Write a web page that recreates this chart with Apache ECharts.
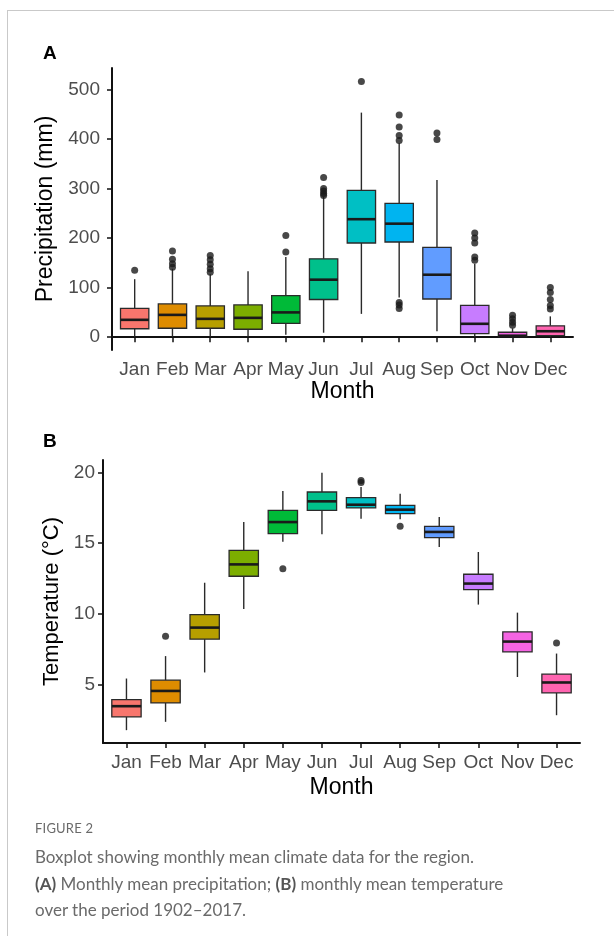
<!DOCTYPE html>
<html>
<head>
<meta charset="utf-8">
<script src="https://cdn.jsdelivr.net/npm/echarts@6/dist/echarts.min.js"></script>
<style>
  html, body { margin: 0; padding: 0; background: #fff; }
  #chart { position: absolute; left: 0; top: 0; width: 614px; height: 810px; z-index: 1; }
  #frame { position: absolute; left: 7px; top: 10px; width: 620px; height: 940px; z-index: 2;
           border-top: 1px solid #c9c9c9; border-left: 1px solid #c9c9c9; pointer-events: none; }
  #caption { position: absolute; left: 35px; top: 820px; width: 560px; z-index: 2;
             font-family: Lato, "Open Sans", sans-serif; color: #6a6a6a; }
  #caption .fig { font-size: 13px; letter-spacing: 0.2px; margin-bottom: 8px; }
  #caption .txt { font-size: 17px; line-height: 26.5px; }
  #caption b { font-weight: bold; color: #555; }
</style>
</head>
<body>
<div id="chart"></div>
<div id="frame"></div>
<div id="caption">
  <div class="fig">FIGURE 2</div>
  <div class="txt">Boxplot showing monthly mean climate data for the region.<br><b>(A)</b> Monthly mean precipitation; <b>(B)</b> monthly mean temperature<br>over the period 1902–2017.</div>
</div>
<script>
// meses e cores (paleta padrão do ggplot)
const months = ["Jan", "Feb", "Mar", "Apr", "May", "Jun", "Jul", "Aug", "Sep", "Oct", "Nov", "Dec"];
const colors = ["#F8766D", "#DE8C00", "#B79F00", "#7CAE00", "#00BA38", "#00C08B",
                "#00BFC4", "#00B4F0", "#619CFF", "#C77CFF", "#F564E3", "#FF64B0"];

// precipitação (mm): [min, Q1, mediana, Q3, max]
const precipStats = [
  [1, 17, 35, 58, 117],
  [1, 18, 45, 67, 138],
  [1, 18, 37, 63, 127],
  [1, 16, 39, 65, 133],
  [5, 28, 50, 84, 162],
  [9, 76, 116, 158, 283],
  [47, 190, 238, 296, 453],
  [80, 192, 229, 270, 391],
  [12, 77, 126, 181, 317],
  [1, 7, 27, 64, 148],
  [0, 1, 3, 10, 18],
  [1, 3, 12, 23, 42]
];
const precipOutliers = [
  [135],
  [141, 148, 157, 174],
  [131, 138, 147, 156, 165],
  [],
  [172, 205],
  [286, 290, 295, 300, 322],
  [516],
  [58, 65, 70, 397, 407, 424, 448],
  [399, 412],
  [155, 162, 190, 200, 210],
  [24, 30, 37, 44],
  [57, 64, 76, 90, 100]
];
const precipTicks = [0, 100, 200, 300, 400, 500];

// temperatura (°C): [min, Q1, mediana, Q3, max]
const tempStats = [
  [1.75, 2.69, 3.45, 3.92, 5.41],
  [2.34, 3.68, 4.53, 5.29, 7.0],
  [5.84, 8.2, 9.02, 9.94, 12.2],
  [10.34, 12.66, 13.5, 14.5, 16.5],
  [15.1, 15.68, 16.5, 17.33, 18.7],
  [15.63, 17.33, 17.97, 18.63, 20.0],
  [16.74, 17.5, 17.73, 18.23, 18.98],
  [16.7, 17.1, 17.38, 17.68, 18.5],
  [14.73, 15.4, 15.8, 16.2, 16.86],
  [10.65, 11.71, 12.14, 12.8, 14.38],
  [5.52, 7.3, 8.03, 8.71, 10.08],
  [2.81, 4.39, 5.13, 5.72, 7.18]
];
const tempOutliers = [
  [], [8.41], [], [], [13.2], [], [19.3, 19.45], [16.2], [], [], [], [7.93]
];
const tempTicks = [5, 10, 15, 20];

const monthPos = months.map((m, i) => i + 1);
const font = "Liberation Sans, Arial, sans-serif";

function boxData(stats) {
  return stats.map((s, i) => [i + 1, s[0], s[1], s[2], s[3], s[4], i]);
}
function outlierData(outs) {
  let arr = [];
  outs.forEach((list, i) => list.forEach(v => arr.push([i + 1, v])));
  return arr;
}

function renderBox(params, api) {
  const x = api.value(0);
  const pMin = api.coord([x, api.value(1)]);
  const pQ1 = api.coord([x, api.value(2)]);
  const pMed = api.coord([x, api.value(3)]);
  const pQ3 = api.coord([x, api.value(4)]);
  const pMax = api.coord([x, api.value(5)]);
  const half = api.size([0.75, 0])[0] / 2;
  const cx = pMed[0];
  const line = { stroke: "#2a2a2a", lineWidth: 1.4 };
  return {
    type: "group",
    children: [
      { type: "line", shape: { x1: cx, y1: pMin[1], x2: cx, y2: pQ1[1] }, style: line },
      { type: "line", shape: { x1: cx, y1: pQ3[1], x2: cx, y2: pMax[1] }, style: line },
      { type: "rect", shape: { x: cx - half, y: pQ3[1], width: half * 2, height: pQ1[1] - pQ3[1] },
        style: { fill: colors[api.value(6)], stroke: "#2a2a2a", lineWidth: 1.3 } },
      { type: "line", shape: { x1: cx - half, y1: pMed[1], x2: cx + half, y2: pMed[1] },
        style: { stroke: "#1a1a1a", lineWidth: 2.6 } }
    ]
  };
}

function xAxisCfg(gridIndex, margin, nameGap) {
  return {
    type: "value", gridIndex: gridIndex, min: 0.4, max: 12.6,
    name: "Month", nameLocation: "middle", nameGap: nameGap,
    nameTextStyle: { fontFamily: font, fontSize: 23, color: "#000" },
    axisLine: { show: true, lineStyle: { color: "#111", width: 2 } },
    axisTick: { show: true, length: 5, customValues: monthPos, lineStyle: { color: "#111", width: 1.5 } },
    axisLabel: { customValues: monthPos, margin: margin, fontFamily: font, fontSize: 19, color: "#4d4d4d",
                 formatter: v => months[Math.round(v) - 1] },
    splitLine: { show: false }
  };
}
function yAxisCfg(gridIndex, min, max, ticks, name, nameSize, margin, nameGap) {
  return {
    type: "value", gridIndex: gridIndex, min: min, max: max,
    name: name, nameLocation: "middle", nameGap: nameGap,
    nameTextStyle: { fontFamily: font, fontSize: nameSize, color: "#000" },
    axisLine: { show: true, lineStyle: { color: "#111", width: 2 } },
    axisTick: { show: true, length: 5, customValues: ticks, lineStyle: { color: "#111", width: 1.5 } },
    axisLabel: { customValues: ticks, margin: margin, fontFamily: font, fontSize: 19, color: "#4d4d4d" },
    splitLine: { show: false }
  };
}

const chart = echarts.init(document.getElementById("chart"));
chart.setOption({
  backgroundColor: "#fff",
  animation: false,
  title: [
    { text: "A", left: 43, top: 44, padding: 0, textStyle: { fontFamily: font, fontSize: 19, fontWeight: "bold", color: "#000" } },
    { text: "B", left: 43, top: 432, padding: 0, textStyle: { fontFamily: font, fontSize: 19, fontWeight: "bold", color: "#000" } }
  ],
  grid: [
    { left: 112, top: 68, width: 461, height: 282 },
    { left: 103, top: 460, width: 477, height: 283 }
  ],
  xAxis: [xAxisCfg(0, 10, 29), xAxisCfg(1, 10, 33)],
  yAxis: [
    yAxisCfg(0, -25.85, 543, precipTicks, "Precipitation (mm)", 23, 12, 42),
    yAxisCfg(1, 0.84, 20.9, tempTicks, "Temperature (°C)", 22, 8, 37)
  ],
  series: [
    { type: "custom", xAxisIndex: 0, yAxisIndex: 0, renderItem: renderBox,
      encode: { x: 0, y: [1, 2, 3, 4, 5] }, data: boxData(precipStats) },
    { type: "scatter", xAxisIndex: 0, yAxisIndex: 0, symbolSize: 7, z: 5,
      itemStyle: { color: "#1a1a1a" }, data: outlierData(precipOutliers) },
    { type: "custom", xAxisIndex: 1, yAxisIndex: 1, renderItem: renderBox,
      encode: { x: 0, y: [1, 2, 3, 4, 5] }, data: boxData(tempStats) },
    { type: "scatter", xAxisIndex: 1, yAxisIndex: 1, symbolSize: 7, z: 5,
      itemStyle: { color: "#1a1a1a" }, data: outlierData(tempOutliers) }
  ]
});
</script>
</body>
</html>
